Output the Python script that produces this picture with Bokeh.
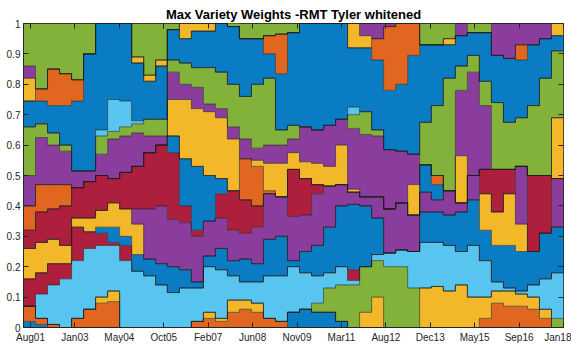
import numpy as np
from bokeh.plotting import figure
from bokeh.models import FixedTicker, LinearAxis, Range1d
from bokeh.embed import file_html
from bokeh.resources import INLINE

# observation dates (decimal years, start of each holding period)
dates = [2001.37, 2001.74, 2002.11, 2002.48, 2002.85, 2003.22, 2003.59, 2003.96, 2004.33, 2004.70,
         2005.07, 2005.44, 2005.80, 2006.17, 2006.54, 2006.91, 2007.28, 2007.65, 2008.02, 2008.39,
         2008.76, 2009.13, 2009.50, 2009.87, 2010.24, 2010.61, 2010.98, 2011.35, 2011.72, 2012.09,
         2012.46, 2012.83, 2013.20, 2013.57, 2013.93, 2014.30, 2014.67, 2015.04, 2015.41, 2015.78,
         2016.15, 2016.52, 2016.89, 2017.26, 2017.63]
end_date = 2018.0

x_tick_labels = ["Aug01", "Jan03", "May04", "Oct05", "Feb07", "Jun08", "Nov09",
                 "Mar11", "Aug12", "Dec13", "May15", "Sep16", "Jan18"]
x_tick_first, x_tick_last = 2001.586, 2018.0
y_ticks = [0, 0.1, 0.2, 0.3, 0.4, 0.5, 0.6, 0.7, 0.8, 0.9, 1]
y_tick_labels = ["0", "0.1", "0.2", "0.3", "0.4", "0.5", "0.6", "0.7", "0.8", "0.9", "1"]

# portfolio weights per asset (stacked bottom -> top)
w01 = [0.02,0.01,0,0,0,0,0,0,0,0, 0,0,0,0,0,0,0,0,0,0, 0,0,0.05,0.06,0.05,0.05,0.02,0,0,0, 0,0,0,0,0,0,0,0,0,0, 0,0,0,0,0]
w02 = [0.05,0.02,0.01,0,0.03,0.06,0.08,0.085,0,0, 0,0,0,0,0.02,0.03,0.02,0.05,0.06,0.05, 0.03,0.02,0,0,0,0,0,0,0,0, 0,0,0,0,0,0,0,0,0.03,0.08, 0.07,0.07,0.06,0.03,0]
w03 = [0,0,0,0,0,0,0.02,0.035,0,0, 0,0,0,0,0,0.02,0.01,0.04,0.03,0.03, 0,0,0,0,0,0,0,0,0.05,0.10, 0,0,0,0.13,0.135,0.12,0.14,0.10,0.07,0.04, 0.05,0.04,0.04,0.03,0]
w05 = [0,0,0,0,0,0,0,0,0,0, 0,0,0,0,0,0,0,0,0,0, 0,0,0,0,0.03,0.08,0.12,0.14,0.15,0.12, 0.20,0.20,0.13,0,0,0,0,0,0,0, 0,0,0,0,0.03]
w06 = [0,0.08,0.13,0.16,0.19,0.20,0.17,0.15,0.22,0.185, 0.17,0.14,0.115,0.13,0.11,0.15,0.16,0.08,0.06,0.07, 0.14,0.15,0.15,0.12,0.09,0.05,0.06,0.015,0,0.02, 0.045,0.055,0.12,0.15,0.145,0.15,0.11,0.17,0.12,0.03, 0.01,0.01,0.04,0.10,0.15]
w07 = [0.09,0.07,0.07,0.05,0.11,0.055,0.04,0.01,0.05,0, 0,0,0,0,0,0,0,0,0,0, 0,0,0,0,0,0,0,0.035,0,0, 0,0,0,0,0,0,0,0,0,0, 0,0,0,0,0]
w08 = [0,0,0,0,0,0,0.02,0.05,0.03,0.055, 0.055,0.07,0.085,0.06,0.02,0.035,0.07,0.05,0.075,0.06, 0.12,0.13,0.02,0.07,0.10,0.15,0.20,0.215,0.20,0.12, 0,0,0,0.10,0.10,0.10,0.13,0.15,0.10,0.12, 0.14,0.13,0.11,0.15,0.15]
w10 = [0.10,0.10,0.08,0.06,0.03,0.045,0.055,0.08,0.09,0.10, 0,0,0,0,0,0,0,0,0,0, 0,0,0,0,0,0,0,0,0,0, 0,0,0,0,0,0,0,0,0.12,0.11, 0.17,0.09,0,0,0]
w11 = [0,0,0,0,0,0,0,0,0,0.05, 0.165,0.19,0.155,0.155,0.15,0.115,0.10,0.10,0.085,0.12, 0.15,0.13,0.145,0.12,0.17,0.135,0.07,0.04,0.03,0.07, 0.145,0.155,0.12,0.065,0.04,0.08,0.03,0.08,0,0, 0,0.19,0,0,0.16]
w14 = [0.06,0.10,0.10,0.13,0.10,0.12,0.115,0.08,0.12,0.14, 0.185,0.20,0.22,0.055,0.02,0,0.08,0.13,0.11,0.07, 0,0,0.155,0.12,0.03,0,0,0,0,0, 0,0,0,0,0,0,0,0,0.08,0.14, 0.08,0,0.25,0.19,0]
w15 = [0,0,0,0,0,0,0,0,0,0, 0,0,0.055,0.155,0.21,0.15,0.05,0,0,0, 0,0,0,0,0,0,0,0,0,0, 0,0,0,0.09,0.05,0,0,0,0,0, 0,0,0,0,0]
w16 = [0.08,0.09,0.08,0.07,0,0,0,0,0,0, 0,0,0,0,0,0,0,0,0.135,0.13, 0.01,0,0,0,0,0,0,0,0,0, 0,0,0,0,0.03,0,0,0,0,0, 0,0,0,0,0]
w17 = [0,0,0,0,0,0,0,0,0,0, 0,0,0.12,0.195,0.19,0.21,0.20,0.17,0,0.02, 0.09,0.11,0.055,0.055,0.07,0.065,0.13,0.01,0,0, 0,0,0.10,0,0,0,0.155,0,0,0, 0,0,0,0,0.20]
w18 = [0.10,0.155,0.13,0.11,0.055,0.035,0.07,0.13,0.12,0.11, 0.055,0.03,0.09,0.05,0.07,0.025,0.03,0.04,0.065,0.04, 0.06,0.06,0.045,0.115,0.11,0.135,0.085,0.20,0.205,0.20, 0.195,0.17,0.10,0,0,0,0.215,0.34,0.21,0, 0,0,0,0,0]
w19 = [0.16,0.045,0.04,0.02,0,0,0.06,0.025,0.03,0.03, 0.055,0.055,0.04,0.07,0.065,0.12,0.12,0.14,0.14,0.21, 0.22,0.05,0.045,0,0,0,0,0.045,0.075,0.02, 0,0,0,0.14,0.23,0.37,0.08,0.055,0.08,0.22, 0.155,0.16,0.23,0.32,0.22]
w20 = [0,0,0,0,0,0,0.02,0.105,0.085,0.01, 0,0,0,0,0,0,0,0,0,0, 0,0,0,0,0,0,0,0.025,0,0, 0,0,0,0,0,0,0,0,0,0, 0,0,0,0,0]
w22 = [0.085,0.075,0.09,0.13,0.23,0.385,0.35,0.25,0.255,0.19, 0.125,0.175,0.10,0.08,0.12,0.12,0.16,0.19,0.19,0.15, 0.08,0.185,0.305,0.34,0.35,0.335,0.315,0.195,0.21,0.23, 0.195,0.22,0.325,0.255,0.20,0.11,0.10,0.075,0.16,0.155, 0.21,0.19,0.20,0.13,0.05]
w23 = [0,0.04,0.12,0.105,0.07,0,0,0,0,0, 0,0,0,0,0,0,0,0,0,0, 0.06,0.13,0,0,0,0,0,0,0,0.07, 0.21,0.20,0.105,0,0,0,0,0,0,0, 0,0.05,0,0,0]
w24 = [0.075,0,0,0,0,0,0,0,0,0.02, 0.02,0.02,0,0.05,0.025,0.025,0,0,0,0, 0,0,0,0,0,0,0,0.08,0.04,0, 0,0,0,0,0,0.02,0,0,0,0, 0,0,0,0,0.04]
w25 = [0.04,0,0,0,0,0,0,0,0,0, 0,0,0,0,0,0,0,0,0,0, 0,0,0,0,0,0,0,0,0.04,0.05, 0.01,0,0,0,0,0,0.04,0,0,0.105, 0.115,0.07,0.07,0.05,0]
w26 = [0.14,0.215,0.15,0.165,0.185,0.10,0,0,0,0.11, 0.17,0.12,0.02,0,0,0,0,0.03,0.05,0.05, 0.04,0.035,0.03,0,0,0,0,0,0,0, 0,0,0,0.07,0.07,0.05,0,0.03,0.03,0, 0,0,0,0,0]

BLUE, ORANGE, YELLOW, PURPLE = "#0a7cc3", "#e1661f", "#f3b82a", "#8a3d9c"
GREEN, LIGHTBLUE, RED = "#82b23a", "#58c5f0", "#ad1f3c"

layers = [
    (w01, BLUE), (w02, ORANGE), (w03, YELLOW), (w05, GREEN), (w06, LIGHTBLUE),
    (w07, RED), (w08, BLUE), (w10, YELLOW), (w11, PURPLE), (w14, RED),
    (w15, BLUE), (w16, ORANGE), (w17, YELLOW), (w18, PURPLE), (w19, GREEN),
    (w20, LIGHTBLUE), (w22, BLUE), (w23, ORANGE), (w24, YELLOW), (w25, PURPLE),
    (w26, GREEN),
]

xs = np.array(dates + [end_date])

p = figure(frame_width=540, frame_height=304, output_backend="svg", toolbar_location=None,
           x_range=Range1d(2001.37, 2018.0), y_range=Range1d(0, 1),
           title="Max Variety Weights -RMT Tyler whitened",
           min_border_left=23, min_border_right=8, min_border_top=23, min_border_bottom=0)
p.background_fill_color = "white"
p.border_fill_color = "white"
p.outline_line_color = "#262626"
p.outline_line_width = 1
p.xgrid.visible = False
p.ygrid.visible = False

p.title.text_font = "Liberation Sans"
p.title.text_font_size = "13px"
p.title.text_font_style = "bold"
p.title.align = "center"
p.title.text_color = "#000000"
p.title.standoff = 3

base = np.zeros(len(xs))
tops = []
for vals, color in layers:
    v = np.array(vals + [vals[-1]], dtype=float)
    top = base + v
    p.varea_step(x=xs, y1=base, y2=top, step_mode="after", fill_color=color, fill_alpha=1.0)
    tops.append(top)
    base = top
for top in tops:
    p.step(x=xs, y=top, mode="after", line_color="#1c1c1c", line_width=0.7, line_alpha=0.85)

x_ticks = [round(float(t), 4) for t in np.linspace(x_tick_first, x_tick_last, len(x_tick_labels))]

font = "Liberation Sans"
xa = p.xaxis[0]
xa.ticker = FixedTicker(ticks=x_ticks)
xa.major_label_overrides = {t: l for t, l in zip(x_ticks, x_tick_labels)}
ya = p.yaxis[0]
ya.ticker = FixedTicker(ticks=y_ticks)
ya.major_label_overrides = {t: l for t, l in zip(y_ticks, y_tick_labels)}
for ax in (xa, ya):
    ax.major_tick_in = 5
    ax.major_tick_out = 0
    ax.minor_tick_line_color = None
    ax.axis_line_color = "#262626"
    ax.major_tick_line_color = "#262626"
    ax.major_label_text_font = font
    ax.major_label_text_font_size = "10px"
    ax.major_label_text_color = "#262626"
xa.major_label_standoff = 4
ya.major_label_standoff = 3

# mirrored tick marks on the top and right edges (no labels)
top_ax = LinearAxis(ticker=FixedTicker(ticks=x_ticks), major_label_text_color=None,
                    major_label_text_font_size="1px",
                    major_label_standoff=0, major_tick_in=5, major_tick_out=0,
                    minor_tick_line_color=None, axis_line_color=None,
                    major_tick_line_color="#262626")
right_ax = LinearAxis(ticker=FixedTicker(ticks=y_ticks), major_label_text_color=None,
                      major_label_text_font_size="1px",
                      major_label_standoff=0, major_tick_in=5, major_tick_out=0,
                      minor_tick_line_color=None, axis_line_color=None,
                      major_tick_line_color="#262626")
p.add_layout(top_ax, "above")
p.add_layout(right_ax, "right")

open("out.html", "w").write(file_html(p, INLINE))
